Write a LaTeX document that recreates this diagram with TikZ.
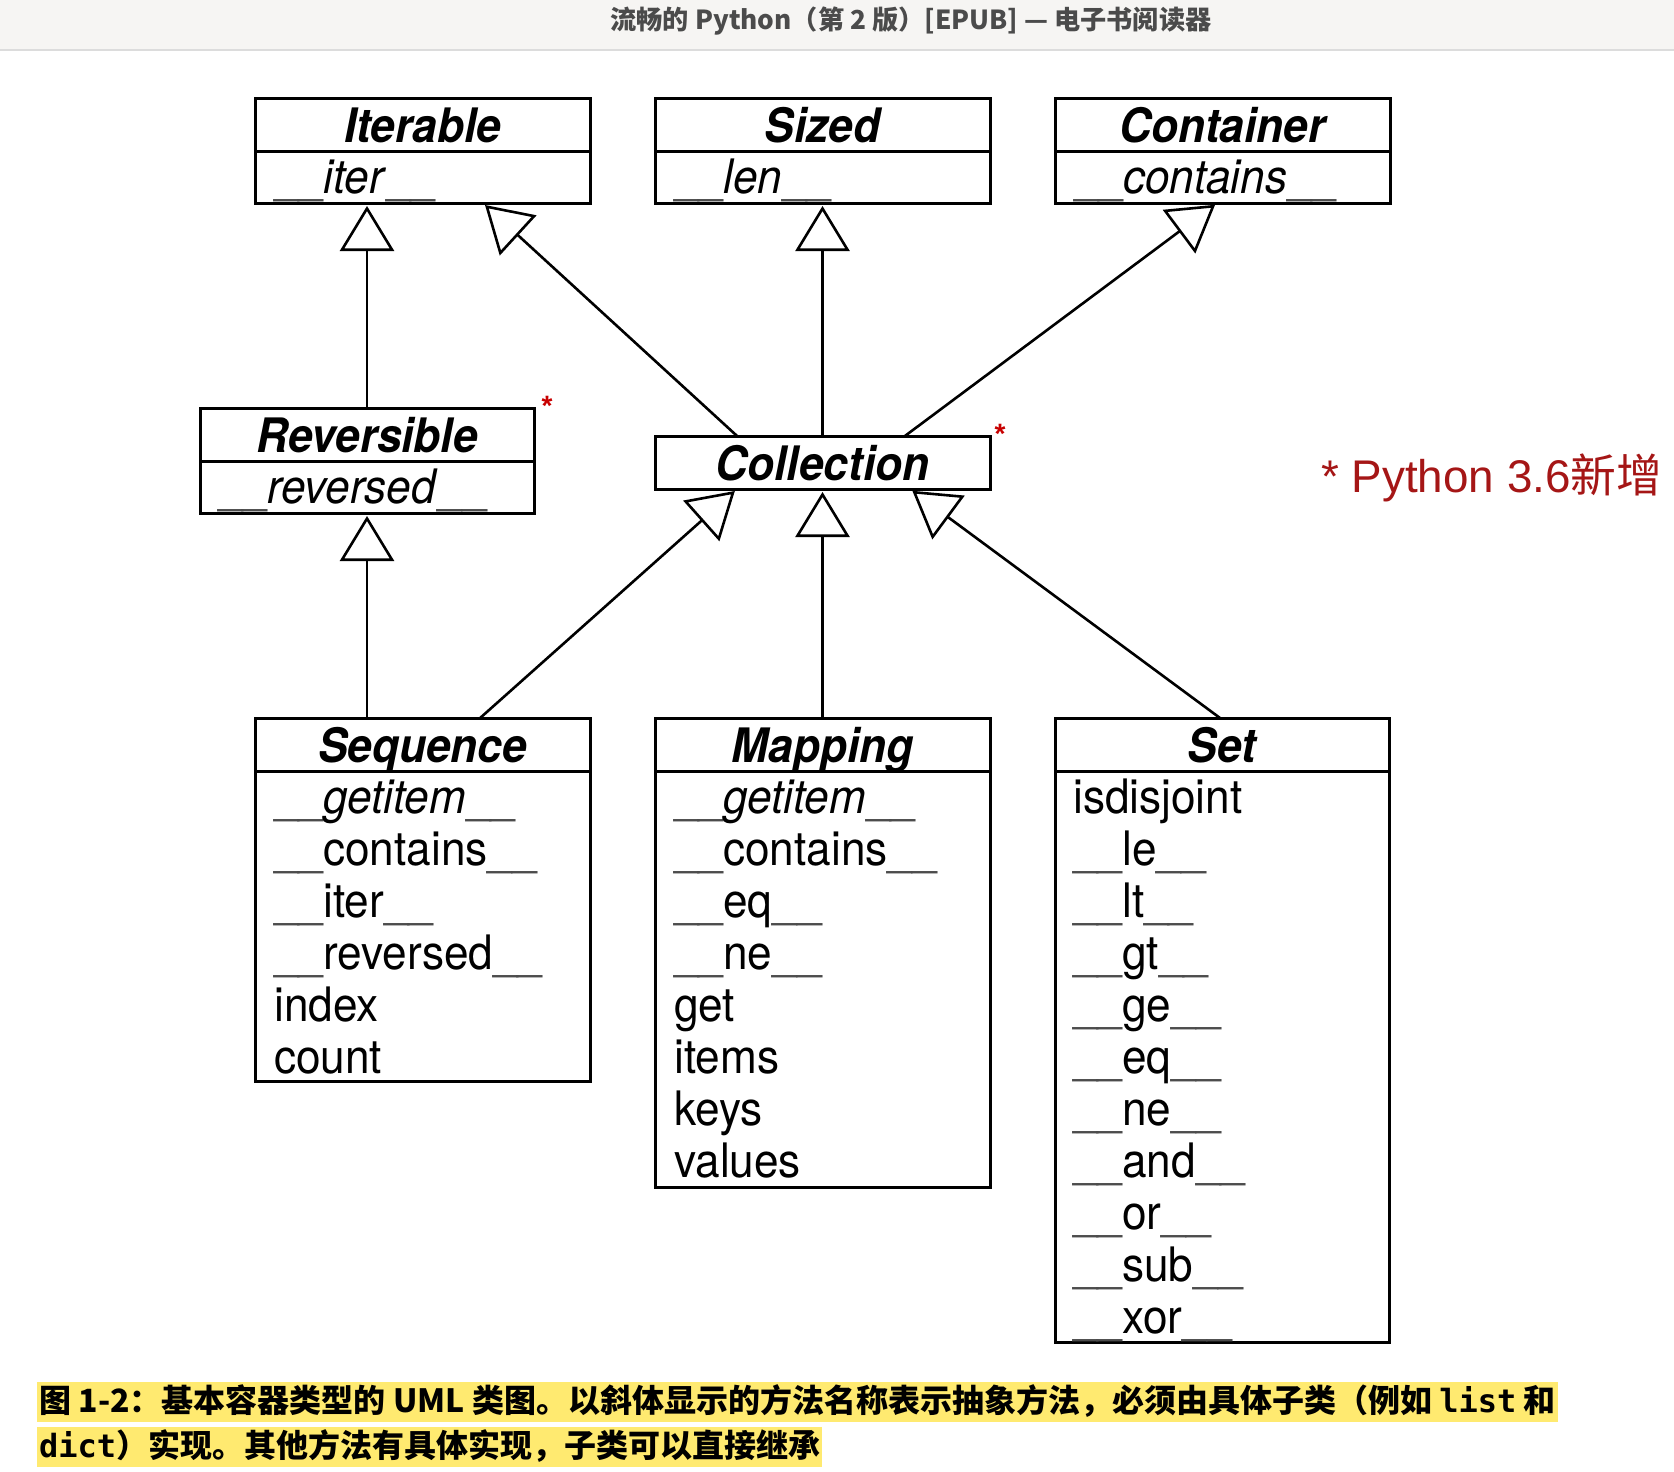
\documentclass[tikz,border=0pt]{standalone}
\usepackage{fontspec}
\usetikzlibrary{arrows.meta,calc}
\newfontfamily\hv[FakeStretch=0.93]{TeX Gyre Heros}
\newfontfamily\cjk{Noto Sans CJK SC}
\newfontfamily\lib{Liberation Sans}
\newfontfamily\monob{DejaVu Sans Mono}
\definecolor{hdrbg}{RGB}{246,245,243}
\definecolor{hdrline}{RGB}{220,220,220}
\definecolor{hdrtxt}{RGB}{75,75,75}
\definecolor{noteRed}{RGB}{165,22,22}
\definecolor{starRed}{RGB}{200,0,0}
\definecolor{hl}{RGB}{255,234,112}
\newcommand\us{{\color{black!70}\_\_}}
\tikzset{
  cls/.style={draw=black, line width=3pt, fill=white, anchor=north west, inner sep=0pt, outer sep=0pt, minimum width=335pt},
  ttl/.style={cls, minimum height=53pt},
  ttxt/.style={anchor=base, inner sep=0pt, font=\hv\bfseries\itshape\fontsize{47.5}{52}\selectfont},
  mtxt/.style={anchor=base west, inner sep=0pt, font=\hv\fontsize{47.5}{52}\selectfont},
  gen/.style={line width=2.6pt, shorten >=3pt, -{Triangle[length=45pt,width=54pt,fill=white]}},
  redstar/.style={inner sep=0pt, text=starRed, font=\lib\bfseries\fontsize{28}{28}\selectfont},
  caption/.style={anchor=base west, fill=hl, inner xsep=2pt, inner ysep=2pt, text height=28pt, text depth=8pt, font=\cjk\bfseries\fontsize{32}{40}\selectfont}
}
\begin{document}
\begin{tikzpicture}[x=1pt,y=-1pt]
\useasboundingbox (0,0) rectangle (1674,1472);
\fill[white] (0,0) rectangle (1674,1472);
\fill[hdrbg] (0,0) rectangle (1674,50);
\draw[hdrline, line width=1.5pt] (0,50) -- (1674,50);
\node[font=\cjk\bfseries\fontsize{26.2}{30}\selectfont, text=hdrtxt] (hdr) at (911,21) {流畅的 Python（第 2 版）[EPUB] — 电子书阅读器};

% ---- top row
\node[ttl] (iterT) at (255,98) {};
\node[cls, minimum height=52pt] (iterB) at (iterT.south west) {};
\node[ttxt] (iterN) at ($(iterT.north)+(0,44.5)$) {Iterable};
\node[mtxt] (iterM) at ($(iterB.north west)+(19,42)$) {\us\textit{iter}\us};

\node[ttl] (sizT) at (655,98) {};
\node[cls, minimum height=52pt] (sizB) at (sizT.south west) {};
\node[ttxt] (sizN) at ($(sizT.north)+(0,44.5)$) {Sized};
\node[mtxt] (sizM) at ($(sizB.north west)+(19,42)$) {\us\textit{len}\us};

\node[ttl] (conT) at (1055,98) {};
\node[cls, minimum height=52pt] (conB) at (conT.south west) {};
\node[ttxt] (conN) at ($(conT.north)+(0,44.5)$) {Container};
\node[mtxt] (conM) at ($(conB.north west)+(19,42)$) {\us\textit{contains}\us};

% ---- middle row
\node[ttl, minimum width=334pt] (revT) at (200,408) {};
\node[cls, minimum width=334pt, minimum height=52pt] (revB) at (revT.south west) {};
\node[ttxt] (revN) at ($(revT.north)+(0,44.5)$) {Reversible};
\node[mtxt] (revM) at ($(revB.north west)+(18,42)$) {\us\textit{reversed}\us};
\node[redstar] (revStar) at (547,406) {*};

\node[ttl] (colT) at (655,436) {};
\node[ttxt] (colN) at ($(colT.north)+(0,44.5)$) {Collection};
\node[redstar] (colStar) at (1000,434) {*};

\node[anchor=base west, inner sep=0pt, text=noteRed, font=\lib\fontsize{45.8}{50}\selectfont] (note) at (1321,492) {* Python 3.6{\cjk 新增}};

% ---- bottom row
\node[ttl] (seqT) at (255,718) {};
\node[cls, minimum height=310pt] (seqB) at (seqT.south west) {};
\node[ttxt] (seqN) at ($(seqT.north)+(0,44.5)$) {Sequence};
\foreach \t [count=\i from 0] in {{\us\textit{getitem}\us},{\us contains\us},{\us iter\us},{\us reversed\us},{index},{count}}
  \node[mtxt] (seq-\i) at ($(seqB.north west)+(19,42+52*\i)$) {\t};

\node[ttl] (mapT) at (655,718) {};
\node[cls, minimum height=416pt] (mapB) at (mapT.south west) {};
\node[ttxt] (mapN) at ($(mapT.north)+(0,44.5)$) {Mapping};
\foreach \t [count=\i from 0] in {{\us\textit{getitem}\us},{\us contains\us},{\us eq\us},{\us ne\us},{get},{items},{keys},{values}}
  \node[mtxt] (map-\i) at ($(mapB.north west)+(19,42+52*\i)$) {\t};

\node[ttl, minimum width=334pt] (setT) at (1055,718) {};
\node[cls, minimum width=334pt, minimum height=571pt] (setB) at (setT.south west) {};
\node[ttxt] (setN) at ($(setT.north)+(0,44.5)$) {Set};
\foreach \t [count=\i from 0] in {{isdisjoint},{\us le\us},{\us lt\us},{\us gt\us},{\us ge\us},{\us eq\us},{\us ne\us},{\us and\us},{\us or\us},{\us sub\us},{\us xor\us}}
  \node[mtxt] (set-\i) at ($(setB.north west)+(18,42+52*\i)$) {\t};

% ---- connectors
\draw[gen] (revT.north) -- (revT.north |- iterB.south);
\draw[gen] ($(colT.north west)!0.245!(colT.north east)$) -- ($(iterB.south west)!0.68!(iterB.south east)$);
\draw[gen] (colT.north) -- (colT.north |- sizB.south);
\draw[gen] ($(colT.north west)!0.746!(colT.north east)$) -- ($(conB.south west)!0.485!(conB.south east)$);
\draw[gen] (revB.south |- seqT.north) -- (revB.south);
\draw[gen] ($(seqT.north west)!0.672!(seqT.north east)$) -- ($(colT.south west)!0.245!(colT.south east)$);
\draw[gen] (mapT.north) -- (colT.south);
\draw[gen] ($(setT.north west)!0.494!(setT.north east)$) -- ($(colT.south west)!0.761!(colT.south east)$);

% ---- caption
\node[caption] (cap1) at (37,1412) {图 1-2：基本容器类型的 UML 类图。以斜体显示的方法名称表示抽象方法，必须由具体子类（例如 {\monob\bfseries list} 和};
\node[caption] (cap2) at (37,1457) {{\monob\bfseries dict}）实现。其他方法有具体实现，子类可以直接继承};
\end{tikzpicture}
\end{document}
